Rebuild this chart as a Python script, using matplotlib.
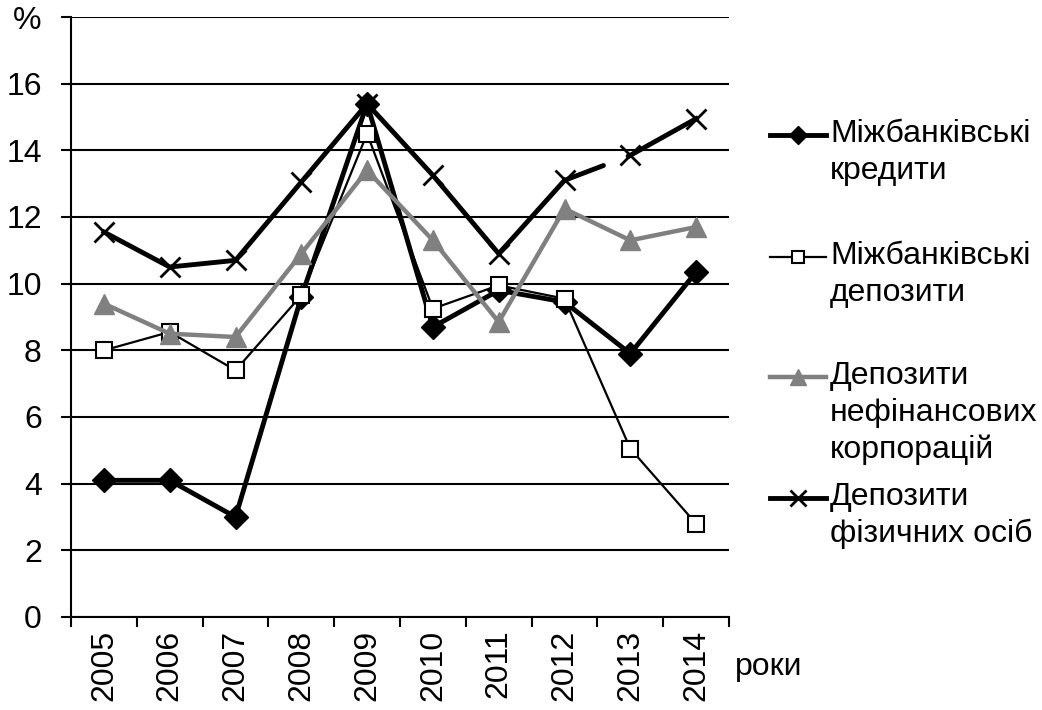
import numpy as np
import matplotlib
matplotlib.use("Agg")
import matplotlib.pyplot as plt
from matplotlib.lines import Line2D

plt.rcParams['font.family'] = ['Liberation Sans', 'DejaVu Sans']
plt.rcParams['font.size'] = 23
plt.rcParams['lines.scale_dashes'] = False

years = ['2005', '2006', '2007', '2008', '2009', '2010', '2011', '2012', '2013', '2014']
kredyty = [4.1, 4.1, 3.0, 9.6, 15.4, 8.7, 9.8, 9.45, 7.9, 10.35]
depozyty = [8.0, 8.55, 7.4, 9.65, 14.5, 9.25, 9.95, 9.55, 5.05, 2.8]
nefin = [9.4, 8.5, 8.4, 10.9, 13.4, 11.3, 8.85, 12.25, 11.3, 11.7]
fiz = [11.55, 10.5, 10.7, 13.05, 15.4, 13.25, 10.9, 13.1, 13.85, 14.95]

labels = ['Міжбанківські\nкредити', 'Міжбанківські\nдепозити',
          'Депозити\nнефінансових\nкорпорацій', 'Депозити\nфізичних осіб']

W, H = 1042, 710
fig = plt.figure(figsize=(W / 100, H / 100), dpi=100)
ax = fig.add_axes([71 / W, 1 - 617 / H, (729 - 71) / W, (617 - 17) / H])

x = np.arange(len(years))

st_kr = dict(color='black', lw=3.5, marker='D', ms=12, mfc='black', mec='black')
st_dep = dict(color='black', lw=1.6, marker='s', ms=11, mfc='white', mec='black', mew=1.5)
st_nef = dict(color='#808080', lw=3.2, marker='^', ms=15, mfc='#808080', mec='#808080')
st_fiz = dict(color='black', lw=3.5, marker='x', ms=15, mew=2)

ax.plot(x, kredyty, **st_kr)
ax.plot(x, depozyty, **st_dep)
ax.plot(x, nefin, **st_nef)
# the 2012-2013 segment of the last series is drawn broken
ax.plot(x[:8], fiz[:8], **st_fiz)
ax.plot(x[8:], fiz[8:], **st_fiz)
ax.plot(x[7:9], fiz[7:9], color='black', lw=3.5,
        dash_capstyle='round', linestyle=(0, (30, 19)))

ax.set_xlim(-0.5, len(years) - 0.5)
ax.set_ylim(0, 18)
ax.set_yticks(np.arange(0, 19, 2))
ax.set_yticklabels([str(v) for v in range(0, 17, 2)] + ['%'])
ax.set_xticks(x)
ax.set_xticklabels(years, rotation=90)
ax.set_xticks(np.arange(-0.5, len(years), 1), minor=True)
ax.tick_params(axis='x', which='major', length=0, pad=9)
ax.tick_params(axis='x', which='minor', length=7, width=1.5, direction='out')
ax.tick_params(axis='y', length=7, width=1.5, pad=14)
ax.grid(axis='y', color='black', lw=1.5)
ax.set_axisbelow(True)
for s in ['top', 'right']:
    ax.spines[s].set_visible(False)
for s in ['left', 'bottom']:
    ax.spines[s].set_linewidth(1.5)

fig.text(735 / W, 1 - 667 / H, 'роки', ha='left', va='center')

# legend drawn by hand: handle sits at the first text line
styles = [st_kr, st_dep, st_nef, st_fiz]
ys = [135, 257, 377, 498]
for st, lab, yp in zip(styles, labels, ys):
    yf = 1 - yp / H
    fig.add_artist(Line2D([770 / W, 826 / W], [yf, yf], transform=fig.transFigure,
                          color=st['color'], lw=st['lw']))
    mk = {k: v for k, v in st.items() if k not in ('color', 'lw')}
    mk['ms'] = st['ms'] * 0.75
    fig.add_artist(Line2D([798 / W], [yf], transform=fig.transFigure,
                          color=st['color'], linestyle='none', **mk))
    fig.text(830 / W, 1 - (yp - 16) / H, lab, ha='left', va='top', linespacing=1.3)

fig.savefig('out.png', dpi=100)
